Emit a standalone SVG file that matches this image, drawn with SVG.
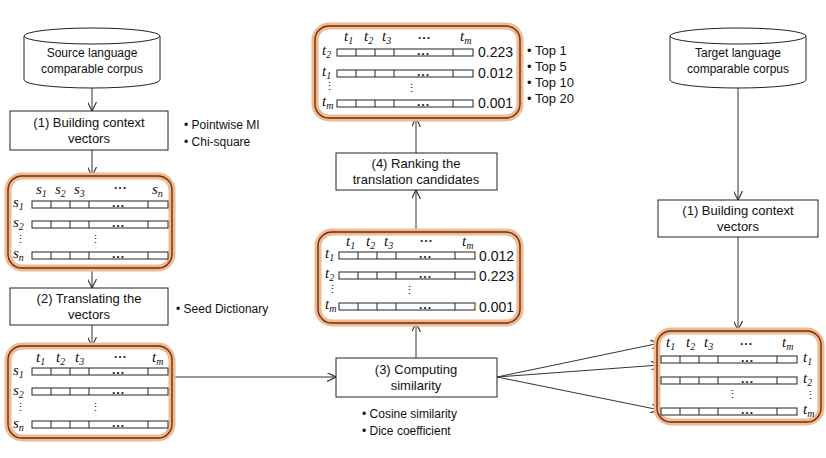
<svg xmlns="http://www.w3.org/2000/svg" xmlns:xlink="http://www.w3.org/1999/xlink" width="826" height="458" viewBox="0 0 826 458">
<defs>
<marker id="ah" viewBox="0 0 10 10" refX="10" refY="5" markerWidth="9" markerHeight="9" orient="auto" markerUnits="userSpaceOnUse"><path d="M0,0 L10,5 L0,10" fill="none" stroke="#333" stroke-width="1.3"/></marker>
<g id="row">
<rect x="0" y="0" width="136" height="7" fill="#fff" stroke="#222" stroke-width="1"/>
<path d="M19,0V7M38,0V7M57,0V7M116,0V7" stroke="#222" stroke-width="1"/>
<text x="86" y="7" class="dots">• • •</text>
</g>
</defs>
<style>
text{font-family:"Liberation Sans",Arial,sans-serif;fill:#111}
.lbl{font-size:13px;text-anchor:middle}
.b{font-size:12px}
.top{font-size:13px}
.it{font-family:"Liberation Serif","Times New Roman",serif;font-style:italic;font-size:15px}
.dots{font-size:7px;text-anchor:middle;font-weight:bold}
.box{fill:#fff;stroke:#222;stroke-width:1}
.glow{fill:#fff;stroke:#f6b78a;stroke-width:7}
.frame{fill:none;stroke:#5a3520;stroke-width:1.4}
.conn{fill:none;stroke:#333;stroke-width:1;marker-end:url(#ah)}
.num{font-size:14px}
.vd{font-size:11px}
</style>

<g id="connectors">
<path class="conn" d="M92,85V111"/>
<path class="conn" d="M92,150V176"/>
<path class="conn" d="M92,268V288"/>
<path class="conn" d="M92,325V346"/>
<path class="conn" d="M172,377H336"/>
<path class="conn" d="M416,358V323"/>
<path class="conn" d="M416,232V190"/>
<path class="conn" d="M416,153V118"/>
<path class="conn" d="M497,377L660,343"/>
<path class="conn" d="M497,377L660,365"/>
<path class="conn" d="M497,377L660,410"/>
<path class="conn" d="M738,85V200"/>
<path class="conn" d="M738,237V330"/>
</g>

<g id="src-corpus">
<path d="M24,36 V80 A68,8 0 0 0 160,80 V36" fill="#fff" stroke="#222"/>
<ellipse cx="92" cy="36" rx="68" ry="8" fill="#fff" stroke="#222"/>
<text class="lbl" x="92" y="57" style="font-size:12px">Source language</text>
<text class="lbl" x="92" y="73" style="font-size:12px">comparable corpus</text>
</g>

<g id="tgt-corpus">
<path d="M670,36 V80 A68,8 0 0 0 806,80 V36" fill="#fff" stroke="#222"/>
<ellipse cx="738" cy="36" rx="68" ry="8" fill="#fff" stroke="#222"/>
<text class="lbl" x="738" y="57" style="font-size:12px">Target language</text>
<text class="lbl" x="738" y="73" style="font-size:12px">comparable corpus</text>
</g>

<g id="build-src">
<rect class="box" x="10" y="111" width="158" height="39"/>
<text class="lbl" x="89" y="127">(1) Building context</text>
<text class="lbl" x="89" y="143">vectors</text>
<text class="b" x="184" y="129">• Pointwise MI</text>
<text class="b" x="184" y="146">• Chi-square</text>
</g>

<g id="src-matrix">
<rect class="glow" x="8" y="176" width="164" height="92" rx="14"/>
<rect class="frame" x="8" y="176" width="164" height="92" rx="14"/>
<text class="it" x="36" y="194">s<tspan font-size="10" dy="3">1</tspan></text>
<text class="it" x="55" y="194">s<tspan font-size="10" dy="3">2</tspan></text>
<text class="it" x="74" y="194">s<tspan font-size="10" dy="3">3</tspan></text>
<text class="dots" x="120" y="190">• • •</text>
<text class="it" x="152" y="194">s<tspan font-size="10" dy="3">n</tspan></text>
<use xlink:href="#row" x="32" y="201"/>
<use xlink:href="#row" x="32" y="221"/>
<use xlink:href="#row" x="32" y="252"/>
<text class="it" x="13" y="207">s<tspan font-size="10" dy="3">1</tspan></text>
<text class="it" x="13" y="227">s<tspan font-size="10" dy="3">2</tspan></text>
<text class="vd" x="15" y="243">⋮</text>
<text class="vd" x="90" y="243">⋮</text>
<text class="it" x="13" y="258">s<tspan font-size="10" dy="3">n</tspan></text>
</g>

<g id="translate">
<rect class="box" x="10" y="288" width="158" height="37"/>
<text class="lbl" x="89" y="303">(2) Translating the</text>
<text class="lbl" x="89" y="319">vectors</text>
<text class="b" x="176" y="313">• Seed Dictionary</text>
</g>

<g id="trans-matrix">
<rect class="glow" x="8" y="346" width="164" height="92" rx="14"/>
<rect class="frame" x="8" y="346" width="164" height="92" rx="14"/>
<text class="it" x="36" y="362">t<tspan font-size="10" dy="3">1</tspan></text>
<text class="it" x="56" y="362">t<tspan font-size="10" dy="3">2</tspan></text>
<text class="it" x="75" y="362">t<tspan font-size="10" dy="3">3</tspan></text>
<text class="dots" x="120" y="359">• • •</text>
<text class="it" x="152" y="362">t<tspan font-size="10" dy="3">m</tspan></text>
<use xlink:href="#row" x="32" y="368"/>
<use xlink:href="#row" x="32" y="388"/>
<use xlink:href="#row" x="32" y="421"/>
<text class="it" x="13" y="375">s<tspan font-size="10" dy="3">1</tspan></text>
<text class="it" x="13" y="395">s<tspan font-size="10" dy="3">2</tspan></text>
<text class="vd" x="15" y="411">⋮</text>
<text class="vd" x="90" y="411">⋮</text>
<text class="it" x="13" y="428">s<tspan font-size="10" dy="3">n</tspan></text>
</g>

<g id="similarity">
<rect class="box" x="336" y="358" width="161" height="39"/>
<text class="lbl" x="416" y="374">(3) Computing</text>
<text class="lbl" x="416" y="390">similarity</text>
<text class="b" x="362" y="418">• Cosine similarity</text>
<text class="b" x="362" y="435">• Dice coefficient</text>
</g>

<g id="sim-matrix">
<rect class="glow" x="318" y="232" width="202" height="91" rx="14"/>
<rect class="frame" x="318" y="232" width="202" height="91" rx="14"/>
<text class="it" x="346" y="246">t<tspan font-size="10" dy="3">1</tspan></text>
<text class="it" x="366" y="246">t<tspan font-size="10" dy="3">2</tspan></text>
<text class="it" x="384" y="246">t<tspan font-size="10" dy="3">3</tspan></text>
<text class="dots" x="426" y="243">• • •</text>
<text class="it" x="462" y="246">t<tspan font-size="10" dy="3">m</tspan></text>
<use xlink:href="#row" x="339" y="252"/>
<use xlink:href="#row" x="339" y="272"/>
<use xlink:href="#row" x="339" y="303"/>
<text class="it" x="325" y="258">t<tspan font-size="10" dy="3">1</tspan></text>
<text class="it" x="325" y="278">t<tspan font-size="10" dy="3">2</tspan></text>
<text class="vd" x="327" y="293">⋮</text>
<text class="vd" x="404" y="294">⋮</text>
<text class="it" x="325" y="309">t<tspan font-size="10" dy="3">m</tspan></text>
<text class="num" x="479" y="261">0.012</text>
<text class="num" x="479" y="281">0.223</text>
<text class="num" x="479" y="312">0.001</text>
</g>

<g id="ranking">
<rect class="box" x="336" y="153" width="161" height="37"/>
<text class="lbl" x="416" y="168">(4) Ranking the</text>
<text class="lbl" x="416" y="184">translation candidates</text>
</g>

<g id="rank-matrix">
<rect class="glow" x="315" y="26" width="205" height="92" rx="14"/>
<rect class="frame" x="315" y="26" width="205" height="92" rx="14"/>
<text class="it" x="344" y="41">t<tspan font-size="10" dy="3">1</tspan></text>
<text class="it" x="364" y="41">t<tspan font-size="10" dy="3">2</tspan></text>
<text class="it" x="382" y="41">t<tspan font-size="10" dy="3">3</tspan></text>
<text class="dots" x="424" y="40">• • •</text>
<text class="it" x="460" y="41">t<tspan font-size="10" dy="3">m</tspan></text>
<use xlink:href="#row" x="337" y="49"/>
<use xlink:href="#row" x="337" y="70"/>
<use xlink:href="#row" x="337" y="100"/>
<text class="it" x="322" y="55">t<tspan font-size="10" dy="3">2</tspan></text>
<text class="it" x="322" y="76">t<tspan font-size="10" dy="3">1</tspan></text>
<text class="vd" x="324" y="90">⋮</text>
<text class="vd" x="406" y="92">⋮</text>
<text class="it" x="322" y="106">t<tspan font-size="10" dy="3">m</tspan></text>
<text class="num" x="478" y="57">0.223</text>
<text class="num" x="478" y="78">0.012</text>
<text class="num" x="478" y="108">0.001</text>
<text class="top" x="527" y="55">• Top  1</text>
<text class="top" x="527" y="71">• Top  5</text>
<text class="top" x="527" y="87">• Top  10</text>
<text class="top" x="527" y="103">• Top  20</text>
</g>

<g id="build-tgt">
<rect class="box" x="658" y="200" width="160" height="37"/>
<text class="lbl" x="738" y="215">(1) Building context</text>
<text class="lbl" x="738" y="231">vectors</text>
</g>

<g id="tgt-matrix">
<rect class="glow" x="657" y="331" width="164" height="91" rx="14"/>
<rect class="frame" x="657" y="331" width="164" height="91" rx="14"/>
<text class="it" x="666" y="347">t<tspan font-size="10" dy="3">1</tspan></text>
<text class="it" x="686" y="347">t<tspan font-size="10" dy="3">2</tspan></text>
<text class="it" x="704" y="347">t<tspan font-size="10" dy="3">3</tspan></text>
<text class="dots" x="746" y="346">• • •</text>
<text class="it" x="782" y="347">t<tspan font-size="10" dy="3">m</tspan></text>
<use xlink:href="#row" x="661" y="356"/>
<use xlink:href="#row" x="661" y="377"/>
<use xlink:href="#row" x="661" y="408"/>
<text class="it" x="803" y="362">t<tspan font-size="10" dy="3">1</tspan></text>
<text class="it" x="803" y="383">t<tspan font-size="10" dy="3">2</tspan></text>
<text class="vd" x="805" y="399">⋮</text>
<text class="vd" x="727" y="398">⋮</text>
<text class="it" x="803" y="414">t<tspan font-size="10" dy="3">m</tspan></text>
</g>
</svg>
